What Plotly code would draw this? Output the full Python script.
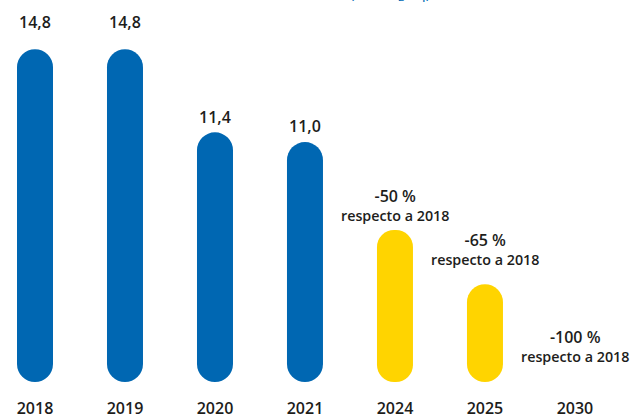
import plotly.graph_objects as go

# ---- data ----
years = ["2018", "2019", "2020", "2021", "2024", "2025", "2030"]
values = [14.8, 14.8, 11.4, 11.0, 7.4, 5.18, 0.0]
value_labels = ["14,8", "14,8", "11,4", "11,0", "", "", ""]
target_pct = ["", "", "", "", "-50 %", "-65 %", "-100 %"]
target_note = "respecto a 2018"
kinds = ["real", "real", "real", "real", "objetivo", "objetivo", "objetivo"]
unit_title = "(Mt CO<sub>2</sub> eq)"

# ---- style ----
palette = {"real": "#0067b2", "objetivo": "#ffd400"}
text_color = "#1d1d1b"
font_family = "Open Sans, Noto Sans, sans-serif"
BASE = 1.17          # visual foot of the capsules
value_shift = [27, 27, 15, 16, 0, 0, 0]
target_shift = [0, 0, 0, 0, 25, 35, 36]

colors = [palette[k] for k in kinds]
idx = list(range(len(years)))
bar_len = [(v - BASE) if v > BASE else None for v in values]

fig = go.Figure()
fig.add_bar(x=idx, y=bar_len, base=BASE, width=0.4,
            marker=dict(color=colors, line_width=0, cornerradius="50%"),
            hoverinfo="skip")

annotations = []
for i, v, lab, sh in zip(idx, values, value_labels, value_shift):
    if lab:
        annotations.append(dict(x=i, y=v, text=lab, showarrow=False,
                                yanchor="middle", yshift=sh,
                                font=dict(size=16, color=text_color, family=font_family, weight=600)))
for i, v, pct, sh in zip(idx, values, target_pct, target_shift):
    if pct:
        annotations.append(dict(x=i, y=max(v, BASE),
                                text='<span style="font-size:16px">' + pct + "</span><br>" + target_note,
                                showarrow=False, yanchor="middle", yshift=sh,
                                font=dict(size=14.3, color=text_color, family=font_family, weight=600)))
annotations.append(dict(xref="paper", yref="paper", x=0.549, y=1, text=unit_title,
                        showarrow=False, xanchor="left", yanchor="bottom", yshift=-6,
                        font=dict(size=15, color="#0067b2", family=font_family)))

fig.update_layout(
    width=634, height=419,
    margin=dict(l=0, r=0, t=0, b=28),
    paper_bgcolor="white", plot_bgcolor="white",
    showlegend=False,
    annotations=annotations,
    font=dict(family=font_family, color=text_color),
)
fig.update_xaxes(range=[-0.3889, 6.656], showgrid=False,
                 showline=False, zeroline=False, ticks="",
                 tickmode="array", tickvals=idx, ticktext=years,
                 ticklabelstandoff=12,
                 tickfont=dict(size=16, color=text_color, family=font_family, weight=600))
fig.update_yaxes(range=[1.05, 16.816], visible=False, showgrid=False, zeroline=False)

fig.write_html("out.html", config={"displayModeBar": False},
               post_script="document.body.style.margin='0';")
